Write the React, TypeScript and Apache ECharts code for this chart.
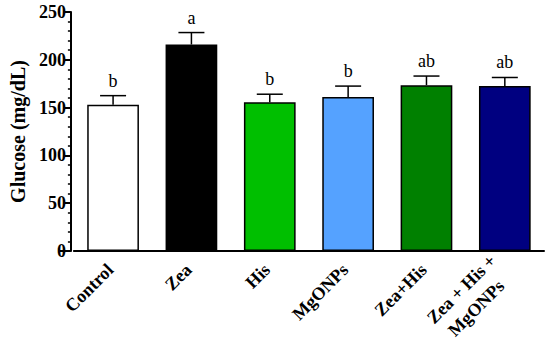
import React, { useEffect, useRef } from "react";
import * as echarts from "echarts";

const categories = ["Control", "Zea", "His", "MgONPs", "Zea+His", "Zea + His +\nMgONPs"];
const means = [153, 216, 155.5, 161, 173.5, 172.5];
const errors = [9.5, 12.5, 8.5, 11.5, 9.5, 9];
const letters = ["b", "a", "b", "b", "ab", "ab"];
const colors = ["#FFFFFF", "#000000", "#00BF00", "#55A2FF", "#008000", "#000080"];
const yTicks = [0, 50, 100, 150, 200, 250];

const SERIF = "Liberation Serif";

export default function App() {
  const ref = useRef<HTMLDivElement>(null);
  useEffect(() => {
    if (!ref.current) return;
    const chart = echarts.init(ref.current, null, { renderer: "svg" });
    const labelFont = { color: "#000", fontFamily: SERIF, fontWeight: "bold" as const, fontSize: 18 };
    chart.setOption({
      animation: false,
      backgroundColor: "#FFFFFF",
      textStyle: { fontFamily: SERIF },
      grid: { left: 66, right: 6, top: 12, bottom: 99, containLabel: false },
      graphic: [
        {
          type: "line",
          shape: { x1: 60, y1: 251, x2: 67, y2: 251 },
          style: { stroke: "#000", lineWidth: 2 },
        },
      ],
      xAxis: {
        type: "category",
        data: categories,
        axisLine: { lineStyle: { color: "#000", width: 2 } },
        axisTick: { alignWithLabel: true, length: 5, lineStyle: { color: "#000", width: 2 } },
        axisLabel: {
          rotate: 45,
          interval: 0,
          margin: 13,
          padding: [0, 4, 0, 0],
          ...labelFont,
          lineHeight: 20,
          formatter: (v: string) => {
            if (v.indexOf("\n") < 0) return v;
            const parts = v.split("\n");
            return `{l1|${parts[0]}}\n{l2|${parts[1]}}`;
          },
          rich: {
            l1: { ...labelFont, lineHeight: 22 },
            l2: { ...labelFont, lineHeight: 26, padding: [0, 12, 0, 0] },
          },
        },
      },
      yAxis: {
        type: "value",
        min: yTicks[0],
        max: yTicks[yTicks.length - 1],
        interval: 50,
        offset: 3,
        name: "Glucose (mg/dL)",
        nameLocation: "middle",
        nameGap: 40,
        nameTextStyle: { color: "#000", fontFamily: SERIF, fontWeight: "bold", fontSize: 20 },
        axisLine: { show: true, lineStyle: { color: "#000", width: 2 } },
        axisTick: { show: true, length: 6, lineStyle: { color: "#000", width: 2 } },
        minorTick: { show: true, splitNumber: 5, length: 3, lineStyle: { color: "#000", width: 1.5 } },
        splitLine: { show: false },
        axisLabel: {
          ...labelFont,
          margin: 5,
        },
      },
      series: [
        {
          type: "bar",
          barWidth: "66%",
          data: means.map((v, i) => ({
            value: v,
            itemStyle: { color: colors[i], borderColor: "#000", borderWidth: 1.5 },
          })),
          z: 2,
        },
        {
          type: "custom",
          z: 3,
          data: means.map((v, i) => [i, v, errors[i]]),
          renderItem: (params: any, api: any) => {
            const i = api.value(0);
            const v = api.value(1);
            const e = api.value(2);
            const base = api.coord([i, v]);
            const top = api.coord([i, v + e]);
            const half = 13;
            return {
              type: "group",
              children: [
                {
                  type: "line",
                  shape: { x1: base[0], y1: base[1], x2: top[0], y2: top[1] },
                  style: { stroke: "#000", lineWidth: 1.5 },
                },
                {
                  type: "line",
                  shape: { x1: top[0] - half, y1: top[1], x2: top[0] + half, y2: top[1] },
                  style: { stroke: "#000", lineWidth: 1.5 },
                },
                {
                  type: "text",
                  x: top[0],
                  y: top[1] - 6,
                  style: {
                    text: letters[params.dataIndex],
                    fill: "#000",
                    fontFamily: SERIF,
                    fontSize: 18,
                    align: "center",
                    verticalAlign: "bottom",
                  },
                },
              ],
            };
          },
        },
      ],
    });
    return () => chart.dispose();
  }, []);
  return (
    <div
      ref={ref}
      style={{ position: "fixed", left: 0, top: 0, width: 550, height: 350 }}
    />
  );
}
